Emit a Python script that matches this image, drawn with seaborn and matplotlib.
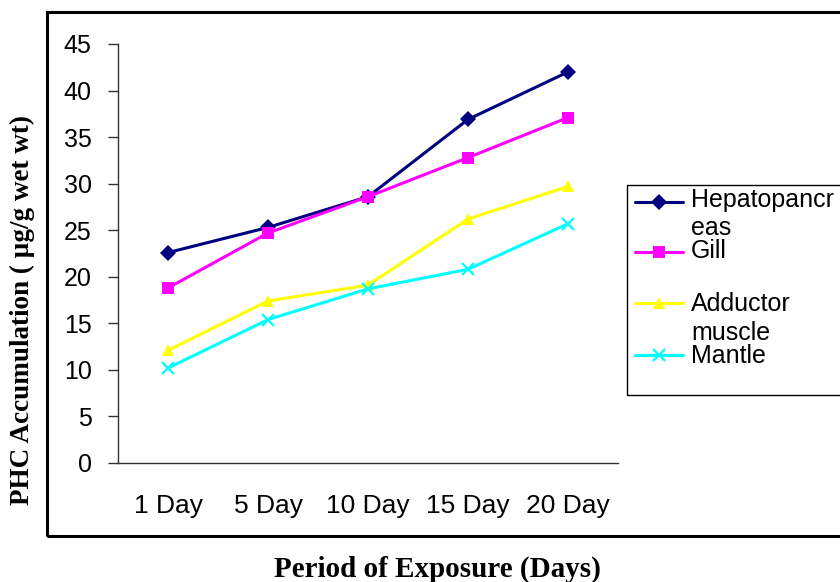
import matplotlib
matplotlib.use("Agg")
import matplotlib.pyplot as plt
from matplotlib.patches import Rectangle
from matplotlib.lines import Line2D
import seaborn as sns
import pandas as pd

# Exposure periods and PHC accumulation (µg/g wet wt) per tissue
periods = ["1 Day", "5 Day", "10 Day", "15 Day", "20 Day"]
hepatopancreas = [22.6, 25.3, 28.6, 36.9, 42.0]
gill = [18.8, 24.7, 28.6, 32.8, 37.1]
adductor_muscle = [12.1, 17.4, 19.1, 26.2, 29.7]
mantle = [10.2, 15.4, 18.7, 20.8, 25.7]

series = [
    ("Hepatopancreas", ["Hepatopancr", "eas"], hepatopancreas, "#000080", "D", 8),
    ("Gill", ["Gill"], gill, "#FF00FF", "s", 9),
    ("Adductor muscle", ["Adductor", "muscle"], adductor_muscle, "#FFFF00", "^", 9),
    ("Mantle", ["Mantle"], mantle, "#00FFFF", "x", 9),
]

sns.set_theme(style="white")
plt.rcParams["font.family"] = ["Liberation Sans", "DejaVu Sans"]

W, H = 840, 582
fig = plt.figure(figsize=(W / 100, H / 100), dpi=100)
fig.patch.set_facecolor("white")

ax = fig.add_axes([118 / W, 1 - 463 / H, 500 / W, 419 / H])
ax.set_facecolor("white")

for name, _, vals, color, marker, ms in series:
    df = pd.DataFrame({"period": periods, "value": vals})
    sns.lineplot(data=df, x="period", y="value", ax=ax, color=color,
                 marker=marker, markersize=ms, linewidth=2.2,
                 markeredgecolor=color, markeredgewidth=1.6 if marker == "x" else 0,
                 sort=False, legend=False)

ax.set_xlim(-0.5, len(periods) - 0.5)
ax.set_ylim(0, 45)
ax.set_yticks(range(0, 50, 5))
ax.set_xticks(range(len(periods)))
ax.set_xticklabels(periods)
ax.set_xticks([i - 0.5 for i in range(len(periods) + 1)], minor=True)
ax.tick_params(axis="x", which="major", length=0, labelsize=19, pad=22, colors="black")
ax.tick_params(axis="x", which="minor", length=7, width=1, direction="out", color="#333333")
ax.tick_params(axis="y", length=7, width=1, direction="out", labelsize=18, pad=12,
               colors="black", color="#333333", left=True)
ax.set_xlabel("")
ax.set_ylabel("")
for side in ("top", "right"):
    ax.spines[side].set_visible(False)
for side in ("left", "bottom"):
    ax.spines[side].set_color("#333333")
    ax.spines[side].set_linewidth(1)

# Outer chart frame
fig.patches.append(Rectangle((47 / W, 1 - 536 / H), 1.0, (536 - 12) / H,
                             transform=fig.transFigure, fill=False,
                             edgecolor="black", linewidth=2.2, clip_on=False))

# Legend box with handles and wrapped labels (baselines in pixels from top)
fig.patches.append(Rectangle((627 / W, 1 - 395 / H), 1.0, (395 - 185) / H,
                             transform=fig.transFigure, fill=False,
                             edgecolor="black", linewidth=1.0, clip_on=False))
handle_y = [202, 252, 303, 355]
label_baselines = [[207, 235], [258], [311, 340], [363]]
for (name, lines, vals, color, marker, ms), hy, bls in zip(series, handle_y, label_baselines):
    yf = 1 - hy / H
    fig.lines.append(Line2D([635 / W, 683 / W], [yf, yf], transform=fig.transFigure,
                            color=color, linewidth=2.2))
    fig.lines.append(Line2D([659 / W], [yf], transform=fig.transFigure, color=color,
                            marker=marker, markersize=ms, markeredgecolor=color,
                            markeredgewidth=1.6 if marker == "x" else 0))
    for txt, bl in zip(lines, bls):
        fig.text(691 / W, 1 - bl / H, txt, fontsize=18,
                 ha="left", va="baseline", color="black")

fig.text(437 / W, 1 - 569 / H, "Period of Exposure (Days)", fontsize=21,
         fontweight="bold", family=["Liberation Serif", "DejaVu Serif"],
         ha="center", va="center", color="black")
fig.text(22 / W, 1 - 310 / H, "PHC Accumulation ( µg/g wet wt)", fontsize=19.5,
         fontweight="bold", family=["Liberation Serif", "DejaVu Serif"],
         rotation=90, ha="center", va="center", color="black")

fig.savefig("out.png", dpi=100, facecolor="white")
